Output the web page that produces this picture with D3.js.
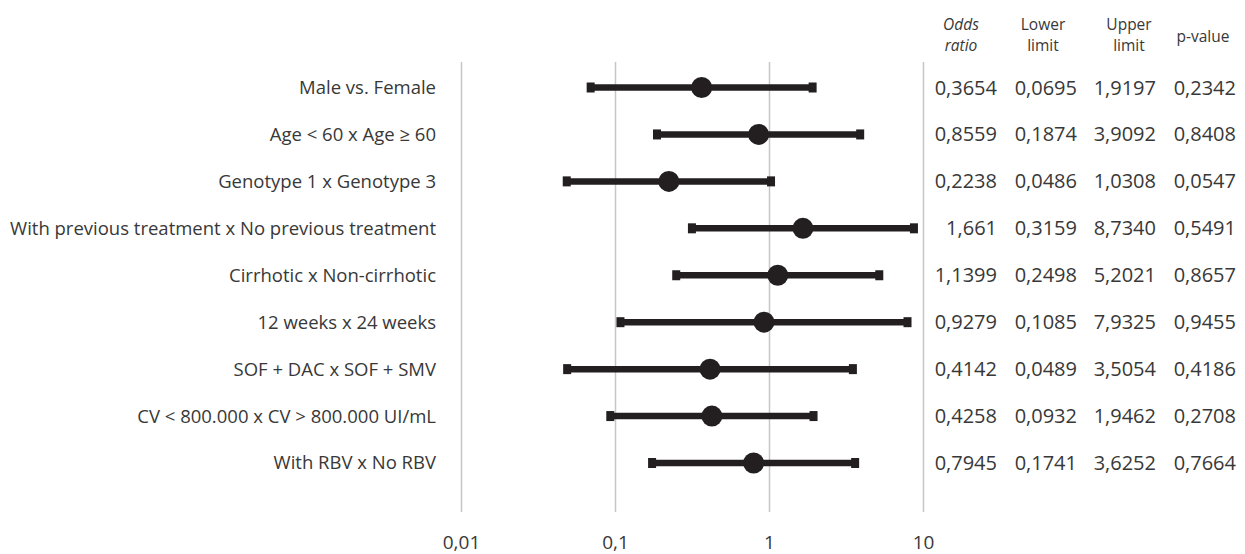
<!DOCTYPE html>
<html lang="en">
<head>
  <meta charset="UTF-8">
  <title>Odds ratio forest plot</title>
  <script src="https://d3js.org/d3.v7.min.js"></script>
  <style>
    body { margin: 0; background: #fff; }
    svg text { font-family: "Open Sans", sans-serif; fill: #383838; }
  </style>
</head>
<body>
  <svg width="1245" height="554"></svg>
  <script>
    // row labels, top to bottom
    var labels = [
      "Male vs. Female",
      "Age < 60 x Age \u2265 60",
      "Genotype 1 x Genotype 3",
      "With previous treatment x No previous treatment",
      "Cirrhotic x Non-cirrhotic",
      "12 weeks x 24 weeks",
      "SOF + DAC x SOF + SMV",
      "CV < 800.000 x CV > 800.000 UI/mL",
      "With RBV x No RBV"
    ];
    // values as printed in the table (decimal comma)
    var oddsRatio = ["0,3654", "0,8559", "0,2238", "1,661", "1,1399", "0,9279", "0,4142", "0,4258", "0,7945"];
    var lowerLimit = ["0,0695", "0,1874", "0,0486", "0,3159", "0,2498", "0,1085", "0,0489", "0,0932", "0,1741"];
    var upperLimit = ["1,9197", "3,9092", "1,0308", "8,7340", "5,2021", "7,9325", "3,5054", "1,9462", "3,6252"];
    var pValue = ["0,2342", "0,8408", "0,0547", "0,5491", "0,8657", "0,9455", "0,4186", "0,2708", "0,7664"];
    var tickValues = [0.01, 0.1, 1, 10];
    var tickLabels = ["0,01", "0,1", "1", "10"];

    function num(s) { return +s.replace(",", "."); }

    var rows = labels.map(function(d, i) {
      return {
        label: d,
        or: num(oddsRatio[i]),
        lo: num(lowerLimit[i]),
        hi: num(upperLimit[i]),
        cells: [oddsRatio[i], lowerLimit[i], upperLimit[i], pValue[i]]
      };
    });

    var svg = d3.select("svg");

    var x = d3.scaleLog().domain([0.01, 10]).range([461, 923]);
    var y = d3.scalePoint().domain(labels).range([87.5, 463]);
    var plotTop = 62, plotBottom = 512;

    // gridlines + tick labels from the axis
    var axis = svg.append("g")
      .attr("transform", "translate(0," + plotBottom + ")")
      .call(d3.axisBottom(x)
        .tickValues(tickValues)
        .tickFormat(function(d, i) { return tickLabels[i]; })
        .tickSize(-(plotBottom - plotTop))
        .tickPadding(24));
    axis.select(".domain").remove();
    axis.selectAll(".tick line").attr("stroke", "#c6c6c6").attr("stroke-width", 1.5);
    axis.selectAll(".tick text")
      .attr("y", 24)
      .attr("dy", "0.71em")
      .style("font-size", "19px")
      .attr("fill", "#383838");

    // row labels
    svg.append("g").selectAll("text")
      .data(rows)
      .enter().append("text")
      .attr("x", 436)
      .attr("y", function(d) { return y(d.label); })
      .attr("dy", "0.35em")
      .attr("text-anchor", "end")
      .style("font-size", "18.5px")
      .text(function(d) { return d.label; });

    // confidence interval lines
    var ci = svg.append("g").selectAll("g")
      .data(rows)
      .enter().append("g");
    ci.append("line")
      .attr("x1", function(d) { return x(d.lo); })
      .attr("x2", function(d) { return x(d.hi); })
      .attr("y1", function(d) { return y(d.label); })
      .attr("y2", function(d) { return y(d.label); })
      .attr("stroke", "#231f20")
      .attr("stroke-width", 6.5);
    ci.append("rect")
      .attr("x", function(d) { return x(d.lo) - 4; })
      .attr("y", function(d) { return y(d.label) - 5; })
      .attr("width", 8)
      .attr("height", 10)
      .attr("fill", "#231f20");
    ci.append("rect")
      .attr("x", function(d) { return x(d.hi) - 4; })
      .attr("y", function(d) { return y(d.label) - 5; })
      .attr("width", 8)
      .attr("height", 10)
      .attr("fill", "#231f20");
    ci.append("circle")
      .attr("cx", function(d) { return x(d.or); })
      .attr("cy", function(d) { return y(d.label); })
      .attr("r", 10.5)
      .attr("fill", "#231f20");

    // table columns (right edges / header centres)
    var colRight = [997, 1077, 1156, 1236];
    var colCenter = [961, 1043, 1129, 1203];

    svg.append("g").selectAll("g")
      .data(rows)
      .enter().append("g")
      .attr("transform", function(d) { return "translate(0," + y(d.label) + ")"; })
      .selectAll("text")
      .data(function(d) { return d.cells; })
      .enter().append("text")
      .attr("x", function(d, i) { return colRight[i]; })
      .attr("dy", "0.35em")
      .attr("text-anchor", "end")
      .style("font-size", "20px")
      .text(function(d) { return d; });

    // column headers, one text per line
    var headers = [["Odds", "ratio"], ["Lower", "limit"], ["Upper", "limit"], ["p-value"]];
    headers.forEach(function(h, i) {
      var lineY = h.length === 2 ? [30, 51] : [42];
      h.forEach(function(s, j) {
        svg.append("text")
          .attr("x", colCenter[i])
          .attr("y", lineY[j])
          .attr("text-anchor", "middle")
          .style("font-size", "15.5px")
          .style("font-style", i === 0 ? "italic" : "normal")
          .text(s);
      });
    });
  </script>
</body>
</html>
